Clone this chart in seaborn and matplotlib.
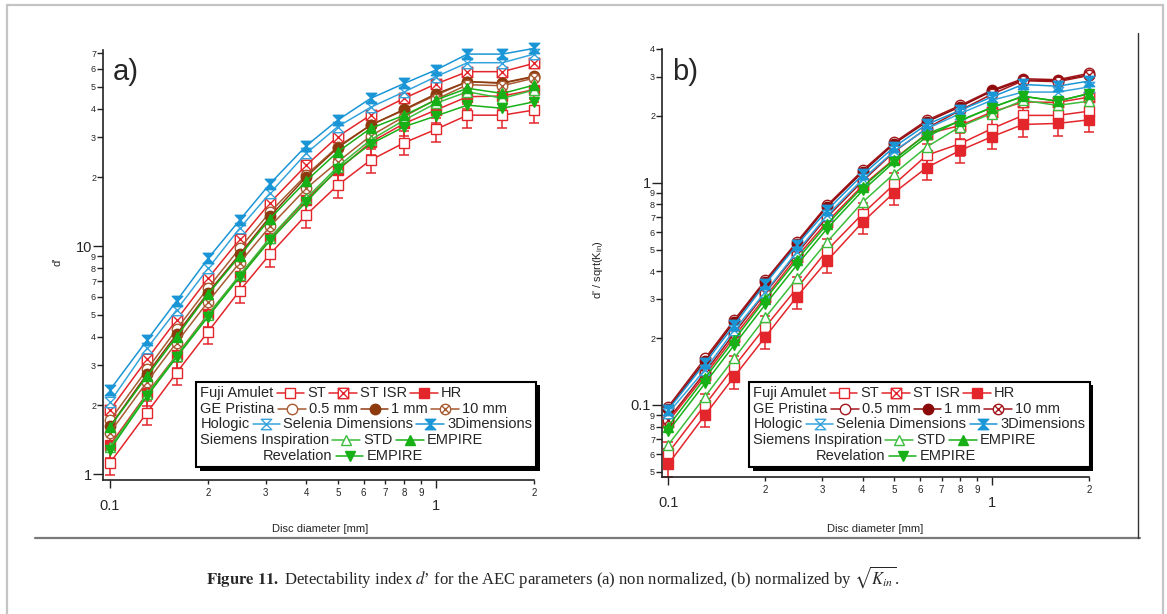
import numpy as np
import matplotlib
matplotlib.use("Agg")
import matplotlib.pyplot as plt
import matplotlib.ticker as mticker
import matplotlib.patheffects as pe
from matplotlib.path import Path
from matplotlib.lines import Line2D
from matplotlib.patches import Rectangle
from matplotlib.offsetbox import AnchoredOffsetbox, TextArea, DrawingArea, HPacker, VPacker
import seaborn as sns

sns.set_style("white")
plt.rcParams["font.family"] = ["Liberation Sans", "DejaVu Sans"]

# disc diameters [mm]
diam = [0.10, 0.13, 0.16, 0.20, 0.25, 0.31, 0.40, 0.50, 0.63, 0.80, 1.00, 1.25, 1.60, 2.00]

# panel a) d'
a_fuji_st = [1.12, 1.86, 2.78, 4.21, 6.37, 9.22, 13.7, 18.5, 23.8, 28.4, 32.5, 37.5, 37.5, 39.5]
a_fuji_isr = [1.91, 3.19, 4.74, 7.22, 10.7, 15.5, 22.6, 30.2, 37.5, 44.5, 51.4, 58.2, 58.2, 63.3]
a_fuji_hr = [1.34, 2.26, 3.32, 5.03, 7.4, 10.8, 16.0, 21.5, 28.5, 34.5, 39.5, 45.2, 45.5, 48.5]
a_ge_05 = [1.72, 2.88, 4.31, 6.56, 9.77, 14.1, 20.5, 27.3, 33.9, 39.5, 45.9, 52.6, 51.7, 55.3]
a_ge_1 = [1.62, 2.75, 4.10, 6.25, 9.2, 13.5, 20.1, 27.0, 33.9, 39.8, 46.5, 52.6, 52.0, 55.5]
a_ge_10 = [1.52, 2.54, 3.77, 5.70, 8.45, 12.2, 17.9, 23.4, 30.4, 37.0, 44.0, 51.0, 50.5, 54.5]
a_holo_sel = [2.07, 3.56, 5.24, 7.98, 11.96, 17.1, 25.5, 33.4, 40.6, 47.5, 55.3, 63.7, 63.7, 69.5]
a_holo_3d = [2.34, 3.87, 5.74, 8.83, 13.0, 18.8, 27.5, 35.7, 44.4, 51.7, 59.2, 69.5, 69.5, 73.6]
a_sie_std = [1.31, 2.24, 3.30, 5.00, 7.46, 10.9, 16.2, 22.3, 29.2, 35.7, 42.3, 47.5, 44.5, 48.3]
a_sie_emp = [1.61, 2.69, 4.00, 6.16, 9.04, 13.2, 19.3, 25.9, 32.8, 37.5, 43.7, 49.2, 46.7, 50.8]
a_rev_emp = [1.28, 2.20, 3.25, 4.90, 7.30, 10.6, 15.6, 21.8, 28.0, 33.4, 37.2, 41.5, 40.2, 42.9]

# panel b) d' / sqrt(K_in)
b_fuji_st = [0.0607, 0.100, 0.149, 0.225, 0.335, 0.497, 0.727, 0.985, 1.33, 1.50, 1.75, 2.01, 2.01, 2.10]
b_fuji_isr = [0.084, 0.136, 0.203, 0.307, 0.464, 0.667, 0.975, 1.28, 1.66, 1.81, 2.08, 2.31, 2.30, 2.43]
b_fuji_hr = [0.054, 0.090, 0.134, 0.203, 0.307, 0.445, 0.667, 0.904, 1.17, 1.40, 1.61, 1.83, 1.85, 1.92]
b_ge_05 = [0.098, 0.162, 0.241, 0.365, 0.542, 0.792, 1.14, 1.52, 1.91, 2.23, 2.61, 2.94, 2.91, 3.11]
b_ge_1 = [0.096, 0.158, 0.236, 0.358, 0.532, 0.780, 1.12, 1.50, 1.88, 2.20, 2.58, 2.90, 2.88, 3.06]
b_ge_10 = [0.086, 0.140, 0.210, 0.320, 0.480, 0.700, 1.02, 1.38, 1.76, 2.12, 2.50, 2.88, 2.85, 3.04]
b_holo_sel = [0.0917, 0.144, 0.217, 0.323, 0.489, 0.714, 1.04, 1.39, 1.75, 2.05, 2.35, 2.56, 2.56, 2.70]
b_holo_3d = [0.095, 0.154, 0.229, 0.352, 0.524, 0.752, 1.09, 1.45, 1.83, 2.12, 2.43, 2.77, 2.72, 2.87]
b_sie_std = [0.066, 0.109, 0.162, 0.248, 0.371, 0.542, 0.82, 1.10, 1.45, 1.79, 2.05, 2.35, 2.23, 2.33]
b_sie_emp = [0.080, 0.132, 0.196, 0.300, 0.450, 0.650, 0.96, 1.27, 1.66, 1.90, 2.18, 2.45, 2.33, 2.52]
b_rev_emp = [0.076, 0.125, 0.186, 0.284, 0.426, 0.622, 0.925, 1.24, 1.61, 1.91, 2.18, 2.45, 2.33, 2.52]

ERR = 0.12  # relative error bar half-width on ST / HR

# custom markers
hourglass = Path([(-1, 1), (1, 1), (-1, -1), (1, -1), (-1, 1)],
                 [Path.MOVETO, Path.LINETO, Path.LINETO, Path.LINETO, Path.CLOSEPOLY])
circ_x = Path.make_compound_path(
    Path.unit_circle(),
    Path([(-0.7, -0.7), (0.7, 0.7)], [Path.MOVETO, Path.LINETO]),
    Path([(-0.7, 0.7), (0.7, -0.7)], [Path.MOVETO, Path.LINETO]))
box_x = Path.make_compound_path(
    Path([(-1, -1), (1, -1), (1, 1), (-1, 1), (-1, -1)],
         [Path.MOVETO, Path.LINETO, Path.LINETO, Path.LINETO, Path.CLOSEPOLY]),
    Path([(-1, -1), (1, 1)], [Path.MOVETO, Path.LINETO]),
    Path([(-1, 1), (1, -1)], [Path.MOVETO, Path.LINETO]))

RED = "#e3262b"
BLUE = "#35a4dc"
BLUE_D = "#1a95d6"
GREEN = "#3cbd3c"
GREEN_D = "#17b017"


def styles(ge_col, ge_fill):
    # key -> (marker, line colour, face colour)
    return {
        "st": ("s", RED, "white"),
        "isr": (box_x, RED, "white"),
        "hr": ("s", RED, RED),
        "ge05": ("o", ge_col, "white"),
        "ge1": ("o", ge_fill, ge_fill),
        "ge10": (circ_x, ge_col, "white"),
        "sel": (hourglass, BLUE, "white"),
        "3d": (hourglass, BLUE_D, BLUE_D),
        "std": ("^", GREEN, "white"),
        "emp": ("^", GREEN_D, GREEN_D),
        "rev": ("v", GREEN_D, GREEN_D),
    }


sty_a = styles("#a85a32", "#8c3a0e")
sty_b = styles("#a3161c", "#8a0a0a")

series_a = {"st": a_fuji_st, "isr": a_fuji_isr, "hr": a_fuji_hr,
            "ge05": a_ge_05, "ge1": a_ge_1, "ge10": a_ge_10,
            "sel": a_holo_sel, "3d": a_holo_3d,
            "std": a_sie_std, "emp": a_sie_emp, "rev": a_rev_emp}
series_b = {"st": b_fuji_st, "isr": b_fuji_isr, "hr": b_fuji_hr,
            "ge05": b_ge_05, "ge1": b_ge_1, "ge10": b_ge_10,
            "sel": b_holo_sel, "3d": b_holo_3d,
            "std": b_sie_std, "emp": b_sie_emp, "rev": b_rev_emp}

legend_rows = [
    ("Fuji Amulet", [("st", "ST"), ("isr", "ST ISR"), ("hr", "HR")]),
    ("GE Pristina", [("ge05", "0.5 mm"), ("ge1", "1 mm"), ("ge10", "10 mm")]),
    ("Hologic", [("sel", "Selenia Dimensions"), ("3d", "3Dimensions")]),
    ("Siemens Inspiration", [("std", "STD"), ("emp", "EMPIRE")]),
    ("Revelation", [("rev", "EMPIRE")]),
]

fig = plt.figure(figsize=(11.67, 6.14), dpi=100)
ax_a = fig.add_axes([0.0883, 0.2182, 0.3693, 0.7003])
ax_b = fig.add_axes([0.5673, 0.2231, 0.3659, 0.6971])


def digit_fmt(v, pos):
    e = np.floor(np.log10(v) + 1e-9)
    return f"{v / 10 ** e:.0f}"


def draw_panel(ax, data, sty, ylim, xlim):
    ax.set_xscale("log")
    ax.set_yscale("log")
    for key in ["st", "hr"]:
        y = np.array(data[key])
        ax.errorbar(diam, y, yerr=y * ERR, fmt="none", ecolor=RED,
                    elinewidth=1.1, capsize=3.5, capthick=1.1, zorder=2,
                    clip_on=False)
    for key, y in data.items():
        mk, col, face = sty[key]
        sns.lineplot(x=diam, y=y, ax=ax, color=col, marker=mk, markersize=7.5,
                     markerfacecolor=face, markeredgecolor=col,
                     markeredgewidth=1.0, linewidth=1.1, clip_on=False,
                     zorder=3, errorbar=None)
    ax.set_xlim(*xlim)
    ax.set_ylim(*ylim)
    for s in ["top", "right"]:
        ax.spines[s].set_visible(False)
    for s in ["left", "bottom"]:
        ax.spines[s].set_color("#222222")
        ax.spines[s].set_linewidth(1.2)
    for axis in [ax.xaxis, ax.yaxis]:
        axis.set_major_locator(mticker.LogLocator(base=10))
        axis.set_minor_locator(mticker.LogLocator(base=10, subs=np.arange(2, 10)))
        axis.set_major_formatter(mticker.FuncFormatter(lambda v, p: f"{v:g}"))
        axis.set_minor_formatter(mticker.FuncFormatter(digit_fmt))
    ax.tick_params(axis="x", which="major", direction="out", length=6, width=1,
                   pad=8, labelsize=10.5, color="#222222", bottom=True)
    ax.tick_params(axis="x", which="minor", direction="out", length=3, width=1,
                   pad=3, labelsize=7, color="#222222", bottom=True)
    ax.tick_params(axis="y", which="major", direction="out", length=7, width=1,
                   pad=1, labelsize=10.5, color="#222222", left=True)
    ax.tick_params(axis="y", which="minor", direction="out", length=4, width=1,
                   pad=1, labelsize=6.5, color="#222222", left=True)
    ax.set_xlabel("Disc diameter [mm]", fontsize=8)
    if ax.get_legend() is not None:
        ax.get_legend().remove()


def handle(key, sty):
    mk, col, face = sty[key]
    da = DrawingArea(20, 9, 0, 0)
    da.add_artist(Line2D([0, 20], [4.5, 4.5], color=col, lw=1.1))
    da.add_artist(Line2D([10], [4.5], marker=mk, markersize=7.5, color=col,
                         markerfacecolor=face, markeredgecolor=col,
                         markeredgewidth=1.0))
    return da


def add_legend(ax, sty, anchor):
    tp = dict(fontsize=10.5, family=["Liberation Sans", "DejaVu Sans"])
    rows = []
    for i, (group, items) in enumerate(legend_rows):
        kids = []
        if i == 4:
            kids.append(DrawingArea(43, 9, 0, 0))
        kids.append(TextArea(group, textprops=tp))
        for key, lab in items:
            kids.append(handle(key, sty))
            kids.append(TextArea(lab, textprops=tp))
        rows.append(HPacker(children=kids, align="center", pad=0, sep=2.2))
    box = VPacker(children=rows, align="left", pad=0, sep=1.3)
    anc = AnchoredOffsetbox(loc="lower left", child=box, pad=0.3, borderpad=0,
                            frameon=True, bbox_to_anchor=anchor,
                            bbox_transform=ax.transAxes)
    anc.patch.set_boxstyle("square", pad=0)
    anc.patch.set_edgecolor("black")
    anc.patch.set_linewidth(1.5)
    anc.patch.set_path_effects([pe.withSimplePatchShadow(offset=(2.5, -2.5),
                                                         shadow_rgbFace="black",
                                                         alpha=1.0)])
    anc.set_zorder(5)
    ax.add_artist(anc)


draw_panel(ax_a, series_a, sty_a, (0.941, 72.4), (0.0952, 2.0))
draw_panel(ax_b, series_b, sty_b, (0.0474, 4.0), (0.0958, 2.0))

ax_a.set_ylabel("d'", fontsize=8)
ax_b.set_ylabel("d' / sqrt(K$_{\\mathregular{in}}$)", fontsize=8)
ax_a.yaxis.set_label_coords(-0.095, 0.507)
ax_b.yaxis.set_label_coords(-0.133, 0.484)
ax_a.xaxis.set_label_coords(0.503, -0.102)
ax_b.xaxis.set_label_coords(0.499, -0.110)

ax_a.text(0.023, 0.949, "a)", transform=ax_a.transAxes, fontsize=21, va="center")
ax_b.text(0.023, 0.946, "b)", transform=ax_b.transAxes, fontsize=21, va="center")

add_legend(ax_a, sty_a, (0.216, 0.030))
add_legend(ax_b, sty_b, (0.204, 0.023))

# page decorations
fig.patches.append(Rectangle((7 / 1167, -0.02), 1156 / 1167, 1.02 - 5 / 614,
                             transform=fig.transFigure, fill=False,
                             edgecolor="#c4c4c4", linewidth=1.6))
fig.lines.append(Line2D([35 / 1167, 1140 / 1167], [1 - 538 / 614, 1 - 538 / 614],
                        transform=fig.transFigure, color="#7a7a7a", linewidth=1.6))
fig.lines.append(Line2D([1138 / 1167, 1138 / 1167], [1 - 33 / 614, 1 - 538 / 614],
                        transform=fig.transFigure, color="#333333", linewidth=1.0))

fig.text(0.474, 0.06,
         r"$\mathbf{Figure\ 11.}$ Detectability index $d$’ for the AEC parameters "
         r"(a) non normalized, (b) normalized by $\sqrt{K_{in}}$.",
         ha="center", va="center", fontsize=12,
         family=["Liberation Serif", "DejaVu Serif"], math_fontfamily="stix")

fig.savefig("out.png", dpi=100)
